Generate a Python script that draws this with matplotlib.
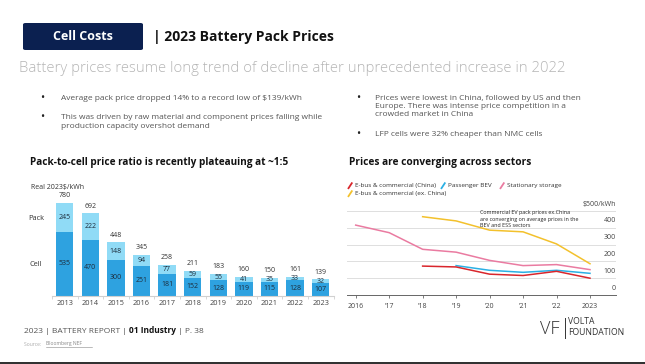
import matplotlib
matplotlib.use("Agg")
import matplotlib.pyplot as plt
from matplotlib.patches import Rectangle, FancyBboxPatch
from matplotlib.lines import Line2D
from matplotlib.text import Annotation
import matplotlib.transforms as mtrans

# ---------------- data ----------------
years_bar = ["2013", "2014", "2015", "2016", "2017", "2018", "2019", "2020", "2021", "2022", "2023"]
cell_vals = [535, 470, 300, 251, 181, 152, 128, 119, 115, 128, 107]
pack_vals = [245, 222, 148, 94, 77, 59, 55, 41, 35, 33, 32]
total_vals = [780, 692, 448, 345, 258, 211, 183, 160, 150, 161, 139]

line_years = [2016, 2017, 2018, 2019, 2020, 2021, 2022, 2023]
line_year_labels = ["2016", "'17", "'18", "'19", "'20", "'21", "'22", "2023"]
ebus_china_years = [2018, 2019, 2020, 2021, 2022, 2023]
ebus_china = [172, 167, 124, 116, 141, 100]
bev_years = [2019, 2020, 2021, 2022, 2023]
bev = [175, 147, 135, 147, 129]
storage_years = [2016, 2017, 2018, 2019, 2020, 2021, 2022, 2023]
storage = [416, 371, 272, 255, 206, 175, 181, 151]
ebus_ex_years = [2018, 2019, 2020, 2021, 2022, 2023]
ebus_ex = [466, 441, 386, 376, 304, 186]
y_ticks = [0, 100, 200, 300, 400, 500]
y_tick_labels = ["0", "100", "200", "300", "400", "$500/kWh"]

W, H = 645, 364
fig = plt.figure(figsize=(W / 100, H / 100), dpi=100)
fig.patch.set_facecolor("white")
FONT = "Open Sans"
plt.rcParams["font.family"] = [FONT, "DejaVu Sans"]


def P(x, y):
    return (x / W, 1 - y / H)


def ftext(x, y, s, **kw):
    return fig.text(*P(x, y), s, **kw)


# ---------------- header ----------------
box = FancyBboxPatch(P(23, 50), 120 / W, 27 / H, boxstyle="round,pad=0,rounding_size=0.004",
                     transform=fig.transFigure, facecolor="#0b2050", edgecolor="none")
fig.patches.append(box)
ftext(83, 37, "Cell Costs", color="white", fontsize=9, fontweight="bold", ha="center", va="center")
ftext(153, 37.5, "| 2023 Battery Pack Prices", color="#111111", fontsize=10, fontweight="bold",
      ha="left", va="center")
ftext(19, 69, "Battery prices resume long trend of decline after unprecedented increase in 2022",
      color="#b5b5b5", fontsize=10.7, ha="left", va="center", fontweight="light")

# bullets
bcol = "#555555"
bfs = 6.0
dfs = 8
ftext(42.5, 98, "•", color="#222222", fontsize=dfs, ha="center", va="center")
ftext(61, 98, "Average pack price dropped 14% to a record low of $139/kWh", color=bcol, fontsize=bfs, va="center")
ftext(42.5, 117.5, "•", color="#222222", fontsize=dfs, ha="center", va="center")
ftext(61, 117.5, "This was driven by raw material and component prices falling while", color=bcol, fontsize=bfs, va="center")
ftext(61, 126, "production capacity overshot demand", color=bcol, fontsize=bfs, va="center")
ftext(358.5, 98, "•", color="#222222", fontsize=dfs, ha="center", va="center")
ftext(375, 98, "Prices were lowest in China, followed by US and then", color=bcol, fontsize=bfs, va="center")
ftext(375, 106.5, "Europe. There was intense price competition in a", color=bcol, fontsize=bfs, va="center")
ftext(375, 115, "crowded market in China", color=bcol, fontsize=bfs, va="center")
ftext(358.5, 134, "•", color="#222222", fontsize=dfs, ha="center", va="center")
ftext(375, 134, "LFP cells were 32% cheaper than NMC cells", color=bcol, fontsize=bfs, va="center")

# ---------------- bar chart ----------------
ftext(30, 162, "Pack-to-cell price ratio is recently plateauing at ~1:5", color="#111111",
      fontsize=7.2, fontweight="bold", va="center")

ax_l, ax_r, ax_b = 51.9, 333.5, 295.7
ymax = 900
scale = 93.0 / 780
ax_t = ax_b - ymax * scale
ax1 = fig.add_axes([ax_l / W, 1 - ax_b / H, (ax_r - ax_l) / W, (ax_b - ax_t) / H])
xs = list(range(len(years_bar)))
cell_c = "#2ea2e0"
pack_c = "#90dbf6"
ax1.bar(xs, cell_vals, width=0.68, color=cell_c, zorder=2)
ax1.bar(xs, pack_vals, bottom=cell_vals, width=0.68, color=pack_c, zorder=2)
ax1.set_xlim(-0.5, len(xs) - 0.5)
ax1.set_ylim(0, ymax)
for s in ["top", "right", "left"]:
    ax1.spines[s].set_visible(False)
ax1.spines["bottom"].set_color("#d0d0d0")
ax1.spines["bottom"].set_linewidth(0.8)
ax1.set_yticks([])
ax1.set_xticks(xs)
ax1.set_xticklabels(years_bar, fontsize=5.3, color="#444444")
ax1.tick_params(axis="x", length=0, pad=3)
ax1.set_xticks([i + 0.5 for i in range(-1, len(xs))], minor=True)
ax1.tick_params(axis="x", which="minor", length=2, color="#d0d0d0", width=0.6)
ax1.patch.set_alpha(0)
nfs = 5.0
ncol = "#1d2b3a"
for i in xs:
    ax1.text(i, cell_vals[i] / 2, str(cell_vals[i]), ha="center", va="center", fontsize=nfs, color=ncol)
    ax1.text(i, cell_vals[i] + pack_vals[i] / 2, str(pack_vals[i]), ha="center", va="center",
             fontsize=nfs, color=ncol)
    ax1.annotate(str(total_vals[i]), (i, total_vals[i]), xytext=(0, 2.5), textcoords="offset points",
                 ha="center", va="bottom", fontsize=nfs, color="#333333")

ftext(31, 187.5, "Real 2023$/kWh", color="#333333", fontsize=5.0, va="center")
ftext(36, 218, "Pack", color="#333333", fontsize=5.3, va="center", ha="center")
ftext(36, 264, "Cell", color="#333333", fontsize=5.3, va="center", ha="center")

# ---------------- line chart ----------------
ftext(349, 162, "Prices are converging across sectors", color="#111111",
      fontsize=7.3, fontweight="bold", va="center")

lx0, lx1 = 347, 616
yb, yt = 295, 211
ax2 = fig.add_axes([lx0 / W, 1 - yb / H, (lx1 - lx0) / W, (yb - yt) / H])
x_min = 2016 - (355.7 - lx0) / 33.47
x_max = 2023 + (lx1 - 590) / 33.47
ax2.set_xlim(x_min, x_max)
ax2.set_ylim(0, 500)
for s in ["top", "right", "left"]:
    ax2.spines[s].set_visible(False)
ax2.spines["bottom"].set_color("#666666")
ax2.spines["bottom"].set_linewidth(0.7)
ax2.set_yticks(y_ticks[1:])
ax2.yaxis.grid(True, color="#dedede", linewidth=0.7)
ax2.tick_params(axis="y", length=0, labelleft=False)
ax2.set_xticks(line_years)
ax2.set_xticklabels(line_year_labels, fontsize=5.0, color="#444444")
ax2.tick_params(axis="x", length=2.5, color="#666666", width=0.6, pad=3)
ax2.set_axisbelow(True)
ax2.patch.set_alpha(0)
trans = mtrans.blended_transform_factory(ax2.transAxes, ax2.transData)
for v, lab in zip(y_ticks, y_tick_labels):
    ax2.annotate(lab, (1.0, v), xycoords=trans, xytext=(0, 2.5), textcoords="offset points",
                 ha="right", va="bottom", fontsize=5.0, color="#444444")

c_red = "#d9262c"
c_blue = "#2bb0e4"
c_pink = "#ea7ba1"
c_yel = "#f3c12c"
lw = 1.1
ax2.plot(storage_years, storage, color=c_pink, lw=lw, zorder=3)
ax2.plot(ebus_ex_years, ebus_ex, color=c_yel, lw=lw, zorder=3)
ax2.plot(bev_years, bev, color=c_blue, lw=lw, zorder=3)
ax2.plot(ebus_china_years, ebus_china, color=c_red, lw=lw, zorder=4)

ax2.text(2019.72, 505, "Commercial EV pack prices ex.China\nare converging on average prices in the\nBEV and ESS sectors",
         fontsize=3.9, color="#222222", va="top", ha="left", linespacing=1.35)

# legend
lfs = 4.6
legend_items = [
    (350, 185.7, c_red, "E-bus & commercial (China)"),
    (443, 185.7, c_blue, "Passenger BEV"),
    (502, 185.7, c_pink, "Stationary storage"),
    (350, 193.7, c_yel, "E-bus & commercial (ex. China)"),
]
for x, y, c, lab in legend_items:
    fig.add_artist(Line2D([(x - 1.5) / W, (x + 1.8) / W], [1 - (y + 2.5) / H, 1 - (y - 2.5) / H],
                          color=c, lw=1.3, transform=fig.transFigure))
    ftext(x + 5, y, lab, fontsize=lfs, color="#333333", va="center")

# ---------------- footer ----------------
ffs = 6.0
t1 = ftext(24, 333, "2023 | BATTERY REPORT | ", fontsize=ffs, color="#555555", va="baseline")
a2 = Annotation("01 Industry", xy=(1, 0), xycoords=t1, fontsize=ffs, color="#111111",
                fontweight="bold", va="bottom", ha="left")
fig.add_artist(a2)
a3 = Annotation(" | P. 38", xy=(1, 0), xycoords=a2, fontsize=ffs, color="#555555", va="bottom", ha="left")
fig.add_artist(a3)
ftext(24, 344, "Source: ", fontsize=3.6, color="#aaaaaa", va="center")
ftext(46, 344, "Bloomberg NEF", fontsize=3.6, color="#888888", va="center")
fig.add_artist(Line2D([46 / W, 92 / W], [1 - 346.5 / H, 1 - 346.5 / H], color="#888888", lw=0.4,
                      transform=fig.transFigure))

# VF logo
ftext(550, 328.5, "VF", fontsize=13, color="#333333", ha="center", va="center", fontweight="light")
fig.add_artist(Line2D([565 / W, 565 / W], [1 - 318 / H, 1 - 338 / H], color="#333333", lw=0.7,
                      transform=fig.transFigure))
ftext(568, 322, "VOLTA", fontsize=6.2, color="#333333", va="center")
ftext(568, 332.5, "FOUNDATION", fontsize=6.2, color="#333333", va="center")

fig.patches.append(Rectangle((0, 0), 1, 2.5 / H, transform=fig.transFigure, facecolor="#333333",
                             edgecolor="none"))

fig.savefig("out.png", dpi=100)
